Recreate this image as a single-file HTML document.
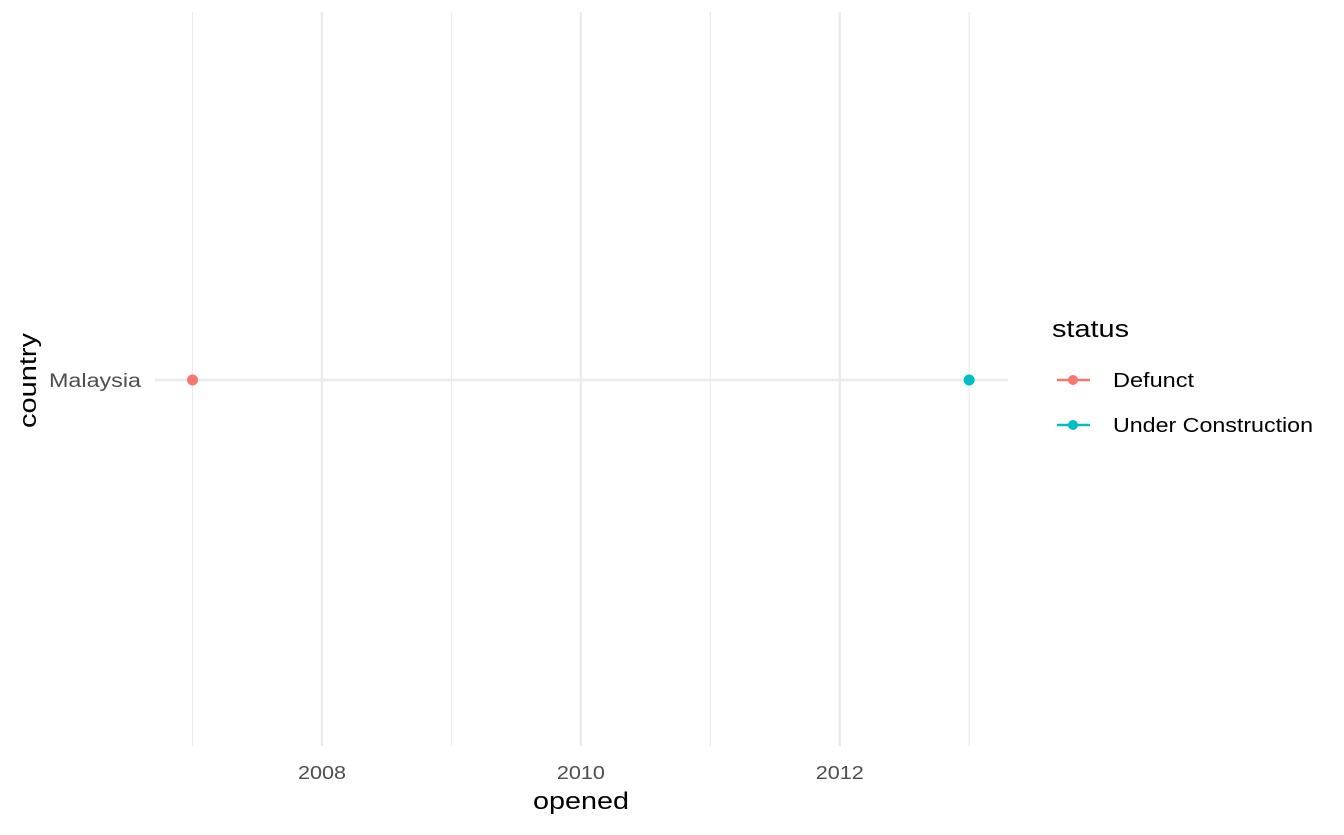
<!DOCTYPE html>
<html><head><meta charset="utf-8"><style>
body{margin:0;background:#fff;}
svg text{font-family:"Liberation Sans",Arial,sans-serif;}
</style></head><body>
<svg id="chart" width="1344" height="830">
<g id="grid"></g>
<g id="marks"></g>
<g id="xticks"></g>
<text x="49" y="387" font-size="19" textLength="92" lengthAdjust="spacingAndGlyphs" fill="#4d4d4d">Malaysia</text>
<text x="533" y="809" font-size="24" textLength="96" lengthAdjust="spacingAndGlyphs" fill="#000">opened</text>
<text transform="translate(36,428) rotate(-90)" font-size="24" textLength="95" lengthAdjust="spacingAndGlyphs" fill="#000">country</text>
<g>
<text x="1052" y="337" font-size="24" textLength="77" lengthAdjust="spacingAndGlyphs" fill="#000">status</text>
<g>
<line x1="1057" y1="380" x2="1090" y2="380" stroke="#F8766D" stroke-width="2.5"/>
<circle cx="1073" cy="380" r="5" fill="#F8766D"/>
<text x="1113" y="387" font-size="20" textLength="81" lengthAdjust="spacingAndGlyphs" fill="#000">Defunct</text></g>
<g>
<line x1="1057" y1="425" x2="1090" y2="425" stroke="#00BFC4" stroke-width="2.5"/>
<circle cx="1073" cy="425" r="5" fill="#00BFC4"/>
<text x="1113" y="432" font-size="20" textLength="200" lengthAdjust="spacingAndGlyphs" fill="#000">Under Construction</text></g>
</g>
</svg>
<script>
const categories=["Malaysia"];
const years=[2007,2013];
const statuses=["Defunct","Under Construction"];
const colors=["#F8766D","#00BFC4"];
const majorTicks=[2008,2010,2012];
const minorTicks=[2007,2009,2011,2013];
const ns="http://www.w3.org/2000/svg";
const x0=155,x1=1008,dmin=2006.71,dmax=2013.3;
const xs=v=>x0+(v-dmin)/(dmax-dmin)*(x1-x0);
const ys=i=>380;
const grid=document.getElementById('grid'),marks=document.getElementById('marks'),xt=document.getElementById('xticks');
function mk(t,a,p){const e=document.createElementNS(ns,t);for(const k in a)e.setAttribute(k,a[k]);p.appendChild(e);return e;}
minorTicks.forEach(v=>{const l=mk('line',{x1:xs(v),x2:xs(v),y1:12,y2:746,stroke:'#ebebeb','stroke-width':1.2},grid);

});
majorTicks.forEach(v=>{const l=mk('line',{x1:xs(v),x2:xs(v),y1:12,y2:746,stroke:'#ebebeb','stroke-width':2.4},grid);


const t=mk('text',{x:xs(v)-24,y:779,'font-size':18,textLength:48,lengthAdjust:'spacingAndGlyphs',fill:'#4d4d4d'},xt);t.textContent=v;

});
categories.forEach((c,i)=>{const l=mk('line',{x1:x0,x2:x1,y1:ys(i),y2:ys(i),stroke:'#ebebeb','stroke-width':2.4},grid);

});
years.forEach((v,i)=>{const c=mk('circle',{cx:xs(v),cy:ys(0),r:5.5,fill:colors[i]},marks);

});
</script>
</body></html>
